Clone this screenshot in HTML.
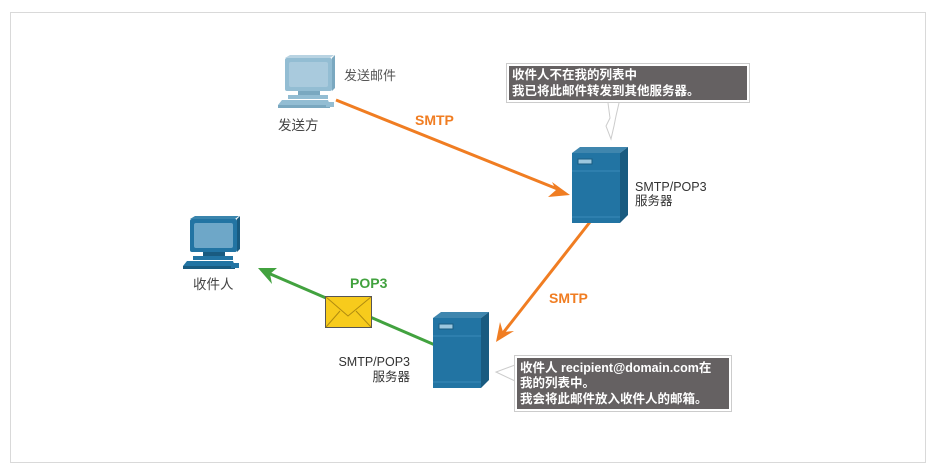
<!DOCTYPE html>
<html><head><meta charset="utf-8"><style>
body{margin:0;background:#fff;}
svg{display:block;font-family:"Liberation Sans","Noto Sans CJK SC",sans-serif;}
</style></head><body>
<svg width="936" height="473" viewBox="0 0 936 473">
<rect x="10.5" y="12.5" width="915" height="450" fill="#fff" stroke="#d9d9d9"/>
<defs>
<g id="pc">
<path d="M7,0 L52,0 L56,-3 L12,-3 Z" fill="var(--l)"/>
<rect x="7" y="0" width="47" height="33" rx="2" fill="var(--m)"/>
<path d="M54,0 L57,-3 L57,30 L54,33Z" fill="var(--d)"/>
<rect x="11" y="4" width="39" height="25" rx="2" fill="var(--s)"/>
<rect x="20" y="33" width="22" height="4" fill="var(--d)"/>
<rect x="10" y="37" width="40" height="4" fill="var(--m)"/>
<path d="M4,42 L50,42 L52,47 L0,47Z" fill="var(--m)"/>
<path d="M0,47 L52,47 L52,50 L0,50Z" fill="var(--d)"/>
<rect x="48" y="44" width="8" height="5" fill="var(--m)"/>
<path d="M50,42 Q56,38 62,40" stroke="#fff" fill="none"/>
</g>
<g id="srv">
<path d="M0,6 L8,0 L56,0 L48,6Z" fill="#3f86ae"/>
<rect x="0" y="6" width="48" height="70" fill="#2274a3"/>
<path d="M48,6 L56,0 L56,68 L48,76Z" fill="#195b80"/>
<line x1="0" y1="24" x2="48" y2="24" stroke="#3a8ab8"/>
<line x1="0" y1="70" x2="48" y2="70" stroke="#3a8ab8"/>
<rect x="6" y="12" width="14" height="5" fill="#9cc7de" stroke="#195b80"/>
</g>
</defs>
<g transform="translate(278,58)" style="--l:#b8d3e2;--m:#93bdd3;--d:#7aa8c0;--s:#a9cadd"><use href="#pc"/></g>
<g transform="translate(183,219)" style="--l:#3a85ad;--m:#2274a3;--d:#195b80;--s:#6ea7c8"><use href="#pc"/></g>
<text x="344" y="80" font-size="13" fill="#555">发送邮件</text>
<text x="278" y="130" font-size="13.5" fill="#444">发送方</text>
<text x="193" y="289" font-size="13.5" fill="#444">收件人</text>
<line x1="336" y1="100" x2="560" y2="190" stroke="#f07d22" stroke-width="3"/>
<path d="M570,195 L552,182 L556,190 L548,197Z" fill="#f07d22"/>
<text x="415" y="125" font-size="14" font-weight="bold" fill="#f07d22">SMTP</text>
<line x1="590" y1="222" x2="503" y2="333" stroke="#f07d22" stroke-width="3"/>
<path d="M496,342 L500,322 L503,332 L514,331Z" fill="#f07d22"/>
<text x="549" y="303" font-size="14" font-weight="bold" fill="#f07d22">SMTP</text>
<line x1="435" y1="345" x2="268" y2="273" stroke="#42a23f" stroke-width="3"/>
<path d="M258,268 L277,268 L270,274 L272,284Z" fill="#42a23f"/>
<text x="350" y="288" font-size="14" font-weight="bold" fill="#42a23f">POP3</text>
<rect x="325.5" y="296.5" width="46" height="31" fill="#f7cb1c" stroke="#555"/>
<path d="M326,297 L348,316 L371,297 M326,327 L340,311 M371,327 L356,311" stroke="#b08b10" fill="none"/>
<use href="#srv" x="572" y="147"/>
<use href="#srv" x="433" y="312"/>
<text x="635" y="191" font-size="12.5" fill="#333">SMTP/POP3</text>
<text x="635" y="205" font-size="12.5" fill="#333">服务器</text>
<text x="410" y="366" font-size="12.5" fill="#333" text-anchor="end">SMTP/POP3</text>
<text x="410" y="381" font-size="12.5" fill="#333" text-anchor="end">服务器</text>
<path d="M608,103 L610,118 L606,126 L611,139 L614,126 L616,116 L619,103" fill="#fff" stroke="#ccc"/>
<rect x="506.5" y="63.5" width="243" height="39" fill="#fff" stroke="#ccc"/>
<rect x="509" y="66" width="238" height="34" fill="#656162"/>
<g font-size="12.5" font-weight="bold" fill="#fff">
<text x="512" y="79">收件人不在我的列表中</text>
<text x="512" y="95">我已将此邮件转发到其他服务器。</text>
</g>
<path d="M515,365 L496,372 L515,381" fill="#fff" stroke="#ccc"/>
<rect x="514.5" y="355.5" width="217" height="56" fill="#fff" stroke="#ccc"/>
<rect x="517" y="358" width="212" height="51" fill="#656162"/>
<g font-size="12.5" font-weight="bold" fill="#fff">
<text x="520" y="372">收件人 recipient@domain.com在</text>
<text x="520" y="387">我的列表中。</text>
<text x="520" y="403">我会将此邮件放入收件人的邮箱。</text>
</g>
</svg>
</body></html>
